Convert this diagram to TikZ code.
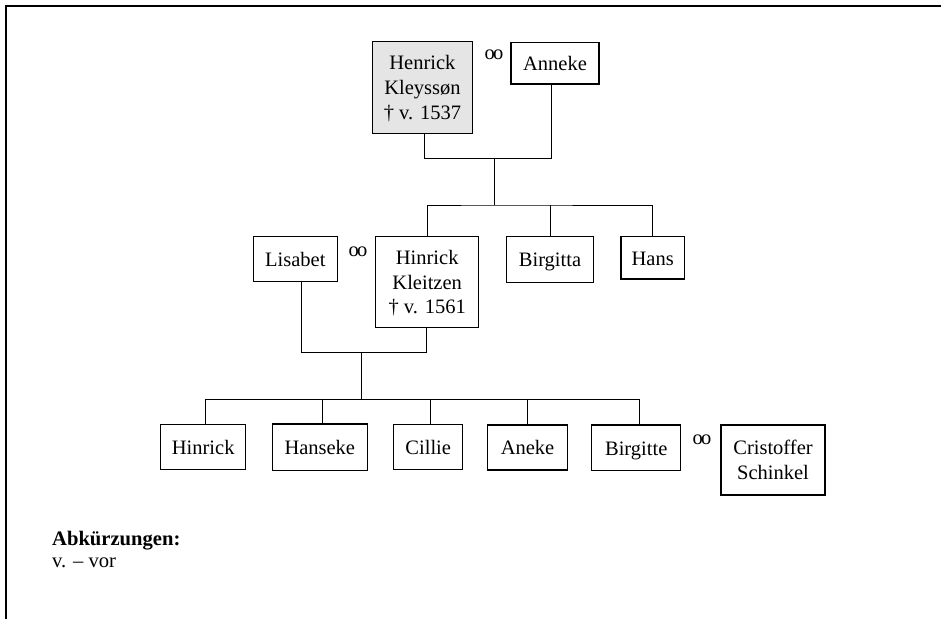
\documentclass[tikz,border=0pt]{standalone}
\usepackage{fontspec}
\setmainfont{Liberation Serif}
\usetikzlibrary{calc}
\newcommand{\wedlock}{o\kern-1.6pt o}
\begin{document}
\begin{tikzpicture}[x=1pt,y=-1pt,
  person/.style={draw, line width=1.2pt, inner sep=0pt, align=center,
    font=\fontsize{20.5}{24.7}\selectfont},
  oneline/.style={text height=14.5pt, text depth=0pt},
  threeline/.style={text depth=-1pt},
  marriage/.style={inner sep=0pt, font=\fontsize{20.5}{24.7}\selectfont},
  link/.style={line width=1pt},
  frameline/.style={line width=2pt}]
\useasboundingbox (0,0) rectangle (949,619);

% page frame (top and left edges)
\coordinate (ftl) at (6.3,6);
\coordinate (ftr) at (941,6);
\coordinate (fbl) at (6.3,619);
\draw[frameline] (ftr) -- (ftl) -- (fbl);

% first generation
\node[person, threeline, fill=black!10, minimum width=100pt, minimum height=91.6pt] (henrick) at (422.4,87.5)
  {Henrick\\Kleyssøn\\† v. 1537};
\node[person, oneline, minimum width=88pt, minimum height=41.3pt] (anneke) at (555,63.3) {Anneke};
\node[marriage] (m1) at (494,55) {\wedlock};

% second generation
\node[person, oneline, minimum width=84pt, minimum height=45pt] (lisabet) at (295.3,259.2) {Lisabet};
\node[marriage] (m2) at (358,252) {\wedlock};
\node[person, threeline, minimum width=103pt, minimum height=90.6pt] (hinrickk) at (427.2,282)
  {Hinrick\\Kleitzen\\† v. 1561};
\node[person, oneline, minimum width=86.6pt, minimum height=45.6pt] (birgitta) at (550,259.5) {Birgitta};
\node[person, oneline, minimum width=63.3pt, minimum height=42.3pt] (hans) at (652.7,257.9) {Hans};

% third generation
\node[person, oneline, minimum width=85pt, minimum height=44.3pt] (hinrick) at (203.2,447) {Hinrick};
\node[person, oneline, minimum width=95pt, minimum height=46.7pt] (hanseke) at (319.8,447.3) {Hanseke};
\node[person, oneline, minimum width=69pt, minimum height=45.7pt] (cillie) at (428.2,447) {Cillie};
\node[person, oneline, minimum width=79.6pt, minimum height=45pt] (aneke) at (527.5,447.5) {Aneke};
\node[person, oneline, minimum width=89pt, minimum height=45.7pt] (birgitte) at (636.2,447.8) {Birgitte};
\node[marriage] (m3) at (702,440) {\wedlock};
\node[person, minimum width=104pt, minimum height=70pt] (cristoffer) at (773,460)
  {Cristoffer\\Schinkel};

% junction points of the family lines
\coordinate (p1l) at (424.3,158.5);
\coordinate (p1r) at (551.7,158.5);
\coordinate (p1m) at (494.3,158.5);
\coordinate (c1)  at (494.3,205);
\coordinate (p2l) at (301,352);
\coordinate (p2r) at (426,352);
\coordinate (p2m) at (361,352);
\coordinate (c2)  at (361,399.3);

% parents 1 -> children
\draw[link] (henrick.south -| p1l) -- (p1l) -- (p1r) -- (anneke.south -| p1r);
\draw[link] (p1m) -- (c1);
\draw[link] (hinrickk.north) |- (c1) -| (hans.north);
\draw[link] (birgitta.north) -- (birgitta.north |- c1);

% parents 2 -> children
\draw[link] (lisabet.south -| p2l) -- (p2l) -- (p2r) -- (hinrickk.south -| p2r);
\draw[link] (p2m) -- (c2);
\draw[link] ($(hinrick.north)+(1.8,0)$) |- (c2) -| ($(birgitte.north)+(3.1,0)$);
\draw[link] ($(hanseke.north)+(2.9,0)$) -- ($(hanseke.north |- c2)+(2.9,0)$);
\draw[link] ($(cillie.north)+(1.8,0)$) -- ($(cillie.north |- c2)+(1.8,0)$);
\draw[link] (aneke.north) -- (aneke.north |- c2);

% legend
\node[anchor=base west, inner sep=0pt, font=\fontsize{20.6}{24}\selectfont\bfseries] (abk) at (52,545) {Abkürzungen:};
\node[anchor=base west, inner sep=0pt, font=\fontsize{20.6}{24}\selectfont] (vor) at (52,567) {v. – vor};
\end{tikzpicture}
\end{document}
